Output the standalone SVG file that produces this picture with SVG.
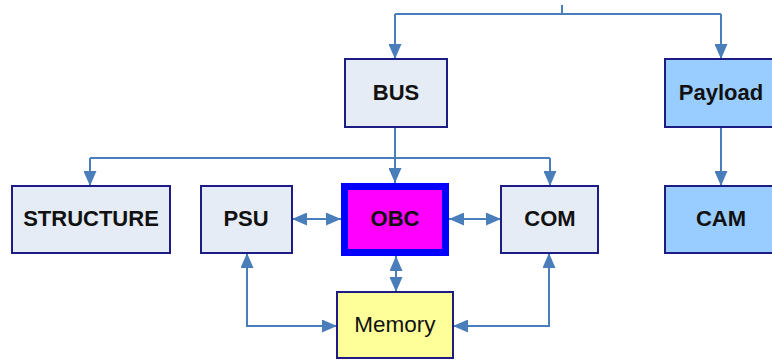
<svg xmlns="http://www.w3.org/2000/svg" width="772" height="360" viewBox="0 0 772 360">
  <style>
    .box { stroke: #1c1c84; stroke-width: 2; }
    .sub { fill: #e6ecf6; }
    .pay { fill: #99ccff; }
    .mem { fill: #ffff99; }
    .obc { fill: #ff00ff; stroke: #0000ff; stroke-width: 7; }
    .lbl { font-family: "Liberation Sans", Arial, sans-serif; font-size: 22px; font-weight: bold; fill: #111; text-anchor: middle; dominant-baseline: central; }
    .reg { font-weight: normal; font-size: 22.5px; }
    .wire { fill: none; stroke: #4a7ebb; stroke-width: 2; }
  </style>
  <defs>
    <marker id="arrow" viewBox="0 0 15 13" refX="15" refY="6.5" markerWidth="15" markerHeight="13" markerUnits="userSpaceOnUse" orient="auto-start-reverse">
      <path d="M0,0 L15,6.5 L0,13 Z" fill="#4a7ebb"/>
    </marker>
  </defs>

  <g id="connectors">
    <path class="wire" d="M562,5 V14"/>
    <path class="wire" d="M395,14 H721"/>
    <path class="wire" d="M395,14 V59" marker-end="url(#arrow)"/>
    <path class="wire" d="M721,14 V59" marker-end="url(#arrow)"/>
    <path class="wire" d="M395,127 V183" marker-end="url(#arrow)"/>
    <path class="wire" d="M90,158 H550"/>
    <path class="wire" d="M90,158 V186" marker-end="url(#arrow)"/>
    <path class="wire" d="M550,158 V186" marker-end="url(#arrow)"/>
    <path class="wire" d="M721,127 V186" marker-end="url(#arrow)"/>
    <path class="wire" d="M292,219 H341" marker-start="url(#arrow)" marker-end="url(#arrow)"/>
    <path class="wire" d="M449,219 H501" marker-start="url(#arrow)" marker-end="url(#arrow)"/>
    <path class="wire" d="M396,256 V292" marker-start="url(#arrow)" marker-end="url(#arrow)"/>
    <path class="wire" d="M247,253 V326 H337" marker-start="url(#arrow)" marker-end="url(#arrow)"/>
    <path class="wire" d="M549,253 V326 H453" marker-start="url(#arrow)" marker-end="url(#arrow)"/>
  </g>

  <g id="bus">
    <rect class="box sub" x="345" y="59" width="102" height="68"/>
    <text class="lbl" x="396" y="92">BUS</text>
  </g>
  <g id="payload">
    <rect class="box pay" x="665" y="59" width="112" height="68"/>
    <text class="lbl" x="721" y="92">Payload</text>
  </g>
  <g id="structure">
    <rect class="box sub" x="12" y="186" width="158" height="67"/>
    <text class="lbl" x="91" y="218">STRUCTURE</text>
  </g>
  <g id="psu">
    <rect class="box sub" x="201" y="186" width="91" height="67"/>
    <text class="lbl" x="246" y="218">PSU</text>
  </g>
  <g id="obc">
    <rect class="obc" x="344.5" y="186.5" width="101" height="66"/>
    <text class="lbl" x="395" y="218">OBC</text>
  </g>
  <g id="com">
    <rect class="box sub" x="501" y="186" width="97" height="67"/>
    <text class="lbl" x="550" y="218">COM</text>
  </g>
  <g id="cam">
    <rect class="box pay" x="665" y="186" width="112" height="67"/>
    <text class="lbl" x="721" y="218">CAM</text>
  </g>
  <g id="memory">
    <rect class="box mem" x="337" y="292" width="116" height="66"/>
    <text class="lbl reg" x="395" y="324">Memory</text>
  </g>
</svg>
